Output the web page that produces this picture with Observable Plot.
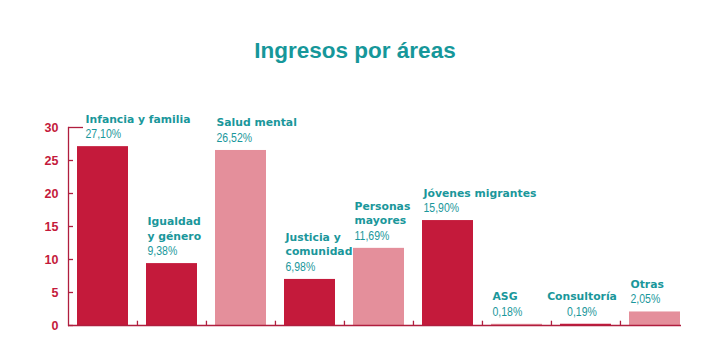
<!DOCTYPE html>
<html>
<head>
<meta charset="utf-8">
<script src="https://cdn.jsdelivr.net/npm/d3@7"></script>
<script src="https://cdn.jsdelivr.net/npm/@observablehq/plot@0.6"></script>
<style>
  html, body { margin: 0; padding: 0; background: #fff; }
  #title {
    width: 708px; height: 80px; box-sizing: border-box;
    padding-top: 40px; margin: 0;
    font-family: "Liberation Sans", Arial, sans-serif; font-weight: bold;
    font-size: 22.5px; line-height: 22px; color: #16979a; text-align: center;
    padding-left: 2px;
  }
  #chart svg { display: block; }
</style>
</head>
<body>
<div id="title">Ingresos por áreas</div>
<div id="chart"></div>
<script>
const areas = ["Infancia y familia", "Igualdad\ny género", "Salud mental", "Justicia y\ncomunidad", "Personas\nmayores", "Jóvenes migrantes", "ASG", "Consultoría", "Otras"];
const values = [27.10, 9.38, 26.52, 6.98, 11.69, 15.90, 0.18, 0.19, 2.05];
const tones = ["dark", "dark", "light", "dark", "light", "dark", "light", "dark", "light"];
const yTicks = [0, 5, 10, 15, 20, 25, 30];

const data = areas.map((a, i) => ({area: a, value: values[i], tone: tones[i]}));
const fmt = v => v.toFixed(2).replace(".", ",") + "%";

const RED = "#c41a3b", PINK = "#e48f9b", TEAL = "#1a979b", AXIS = "#b01e3e";
const labelDx = d => d.area === "Infancia y familia" ? -17.5 : d.area === "Consultoría" ? -4 : -24.5;
const labelAnchor = d => d.area === "Consultoría" ? "middle" : "start";
const groups = d3.groups(data, d => labelDx(d) + "|" + labelAnchor(d));

const chart = Plot.plot({
  width: 708,
  height: 259,
  marginTop: 47,
  marginBottom: 14,
  marginLeft: 68,
  marginRight: 18,
  style: {fontFamily: "Liberation Sans, Arial, sans-serif", background: "#fff"},
  x: {domain: areas, paddingInner: 0.26, paddingOuter: 0.13, axis: null},
  y: {domain: [0, 30], axis: null},
  color: {domain: ["dark", "light"], range: [RED, PINK]},
  marks: [
    Plot.barY(data, {x: "area", y: "value", fill: "tone"}),
    Plot.ruleY([0], {stroke: AXIS, strokeWidth: 1.3, insetRight: 9}),
    Plot.frame({anchor: "left", stroke: AXIS, strokeWidth: 1.3}),
    Plot.ruleY(yTicks.filter(t => t < 30), {y: d => d, stroke: AXIS, strokeWidth: 1.3, insetRight: 617}),
    Plot.ruleY([30], {y: d => d, stroke: AXIS, strokeWidth: 1.3, insetRight: 607}),
    Plot.ruleX(areas.slice(1), {x: d => d, dx: -34.55, y1: 0, y2: 0.65, stroke: AXIS, strokeWidth: 1.3}),
    Plot.axisY(yTicks, {tickSize: 0, tickPadding: 10, fill: RED, fontSize: 12.5, fontWeight: "bold", label: null}),
    ...groups.flatMap(([key, rows]) => {
      const dx = labelDx(rows[0]);
      const ta = labelAnchor(rows[0]);
      return [
        Plot.text(rows, {x: "area", y: "value", text: d => fmt(d.value), dx, dy: -8.5, textAnchor: ta, lineAnchor: "bottom",
          fill: TEAL, fontSize: 13.3, className: "vals"}),
        Plot.text(rows, {x: "area", y: "value", text: "area", dx, dy: -24, textAnchor: ta, lineAnchor: "bottom", lineHeight: 1.35,
          fill: TEAL, fontSize: 10.8, fontWeight: "bold", fontFamily: "DejaVu Sans, sans-serif"})
      ];
    })
  ]
});
// condense the percentage labels horizontally (style only)
d3.select(chart).selectAll("g.vals text").each(function() {
  const t = this.getAttribute("transform") || "";
  this.setAttribute("transform", t + " scale(0.79,1)");
});
document.getElementById("chart").appendChild(chart);
</script>
</body>
</html>
